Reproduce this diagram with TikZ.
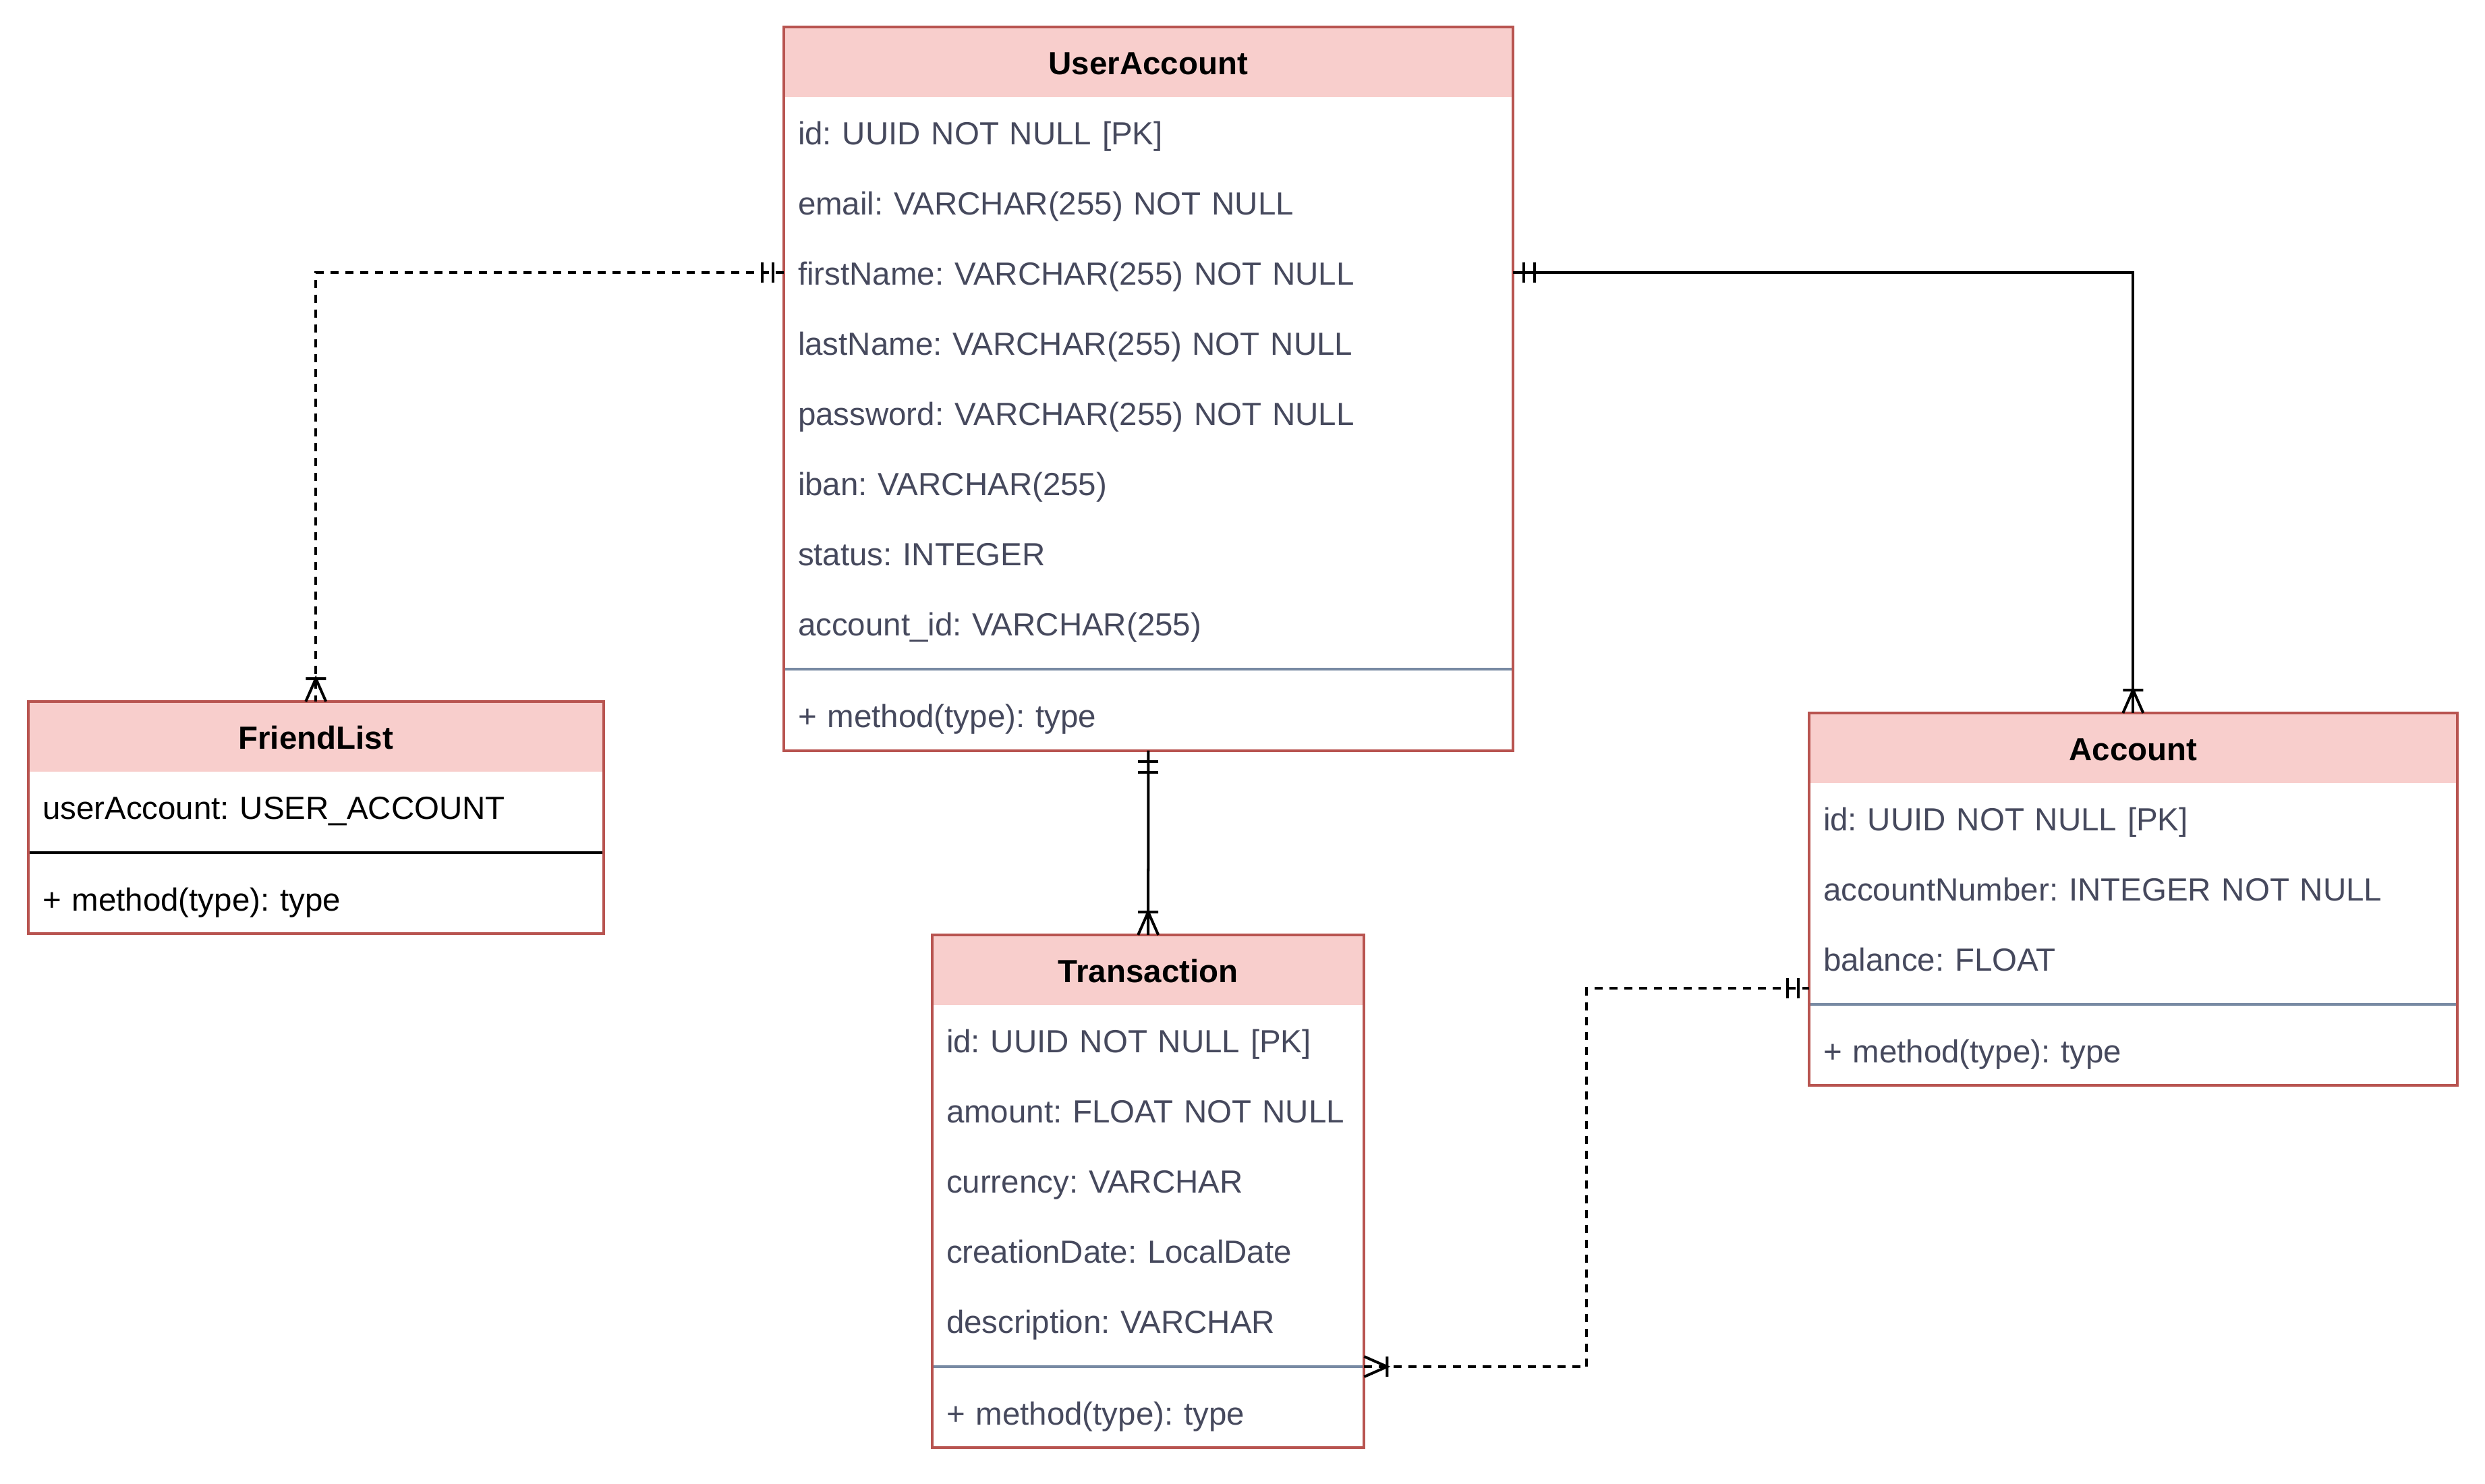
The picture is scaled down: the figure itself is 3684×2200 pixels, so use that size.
\documentclass[tikz,border=0pt]{standalone}
\usepackage{fontspec}
\setmainfont{Liberation Sans}
\usetikzlibrary{calc}

\definecolor{hdfill}{HTML}{F8CECC}
\definecolor{frameline}{HTML}{B85450}
\definecolor{rowtext}{HTML}{46495D}
\definecolor{sepcol}{HTML}{788AA3}

\newcommand\rowfont{\fontsize{13.5pt}{16pt}\selectfont\frenchspacing}
\newcommand\hdfont{\fontsize{13.5pt}{16pt}\selectfont\bfseries}

\begin{document}
\begin{tikzpicture}[x=0.01cm, y=-0.01cm,
  base/.style={rectangle, inner sep=0pt, outer sep=0pt},
  head/.style={base, fill=hdfill, minimum height=1.04cm, font=\hdfont,
    text height=1.12em, text depth=0.065em, anchor=north west},
  row/.style={base, minimum height=1.04cm, inner xsep=0.21cm, align=left,
    text height=1.12em, text depth=0.065em, font=\rowfont, text=rowtext, anchor=west},
  sepbox/.style={base, minimum height=0.32cm, anchor=north west},
  frame/.style={base, draw=frameline, line width=0.04cm, anchor=north west},
  sepline/.style={draw=sepcol, line width=0.04cm},
  conn/.style={draw=black, line width=0.04cm},
  dashconn/.style={conn, dash pattern=on 0.12cm off 0.1cm},
  marker/.style={draw=black, solid, line width=0.04cm},
  pics/mandone/.style={code={\draw[marker] (16,-15)--(16,15) (32,-15)--(32,15);}},
  pics/onemany/.style={code={\draw[marker] (34,-15)--(34,15) (0,-15)--(34,0)--(0,15);}}
]
\useasboundingbox (0,0) rectangle (3684,2200);

% ---------- UserAccount ----------
\node[head, minimum width=10.8cm] (ua-head) at (1162,40) {UserAccount};
\foreach \t [count=\i] in {
  {id: UUID NOT NULL [PK]},
  {email: VARCHAR(255) NOT NULL},
  {firstName: VARCHAR(255) NOT NULL},
  {lastName: VARCHAR(255) NOT NULL},
  {password: VARCHAR(255) NOT NULL},
  {iban: VARCHAR(255)},
  {status: INTEGER},
  {account\_id: VARCHAR(255)}}
  \node[row, text width=10.38cm] (ua-r\i) at (1162,{92+104*\i}) {\mbox{\t}};
\node[sepbox, minimum width=10.8cm] (ua-sep) at (1162,976) {};
\draw[sepline] (ua-sep.west) -- (ua-sep.east);
\node[row, text width=10.38cm] (ua-m) at (1162,1060) {+ method(type): type};
\node[frame, minimum width=10.8cm, minimum height=10.72cm] (ua) at (1162,40) {};

% ---------- FriendList ----------
\node[head, minimum width=8.52cm] (fl-head) at (42,1040) {FriendList};
\node[row, text width=8.1cm, text=black] (fl-r1) at (42,1196) {userAccount: USER\_ACCOUNT};
\node[sepbox, minimum width=8.52cm] (fl-sep) at (42,1248) {};
\draw[conn] (fl-sep.west) -- (fl-sep.east);
\node[row, text width=8.1cm, text=black] (fl-m) at (42,1332) {+ method(type): type};
\node[frame, minimum width=8.52cm, minimum height=3.44cm] (fl) at (42,1040) {};

% ---------- Transaction ----------
\node[head, minimum width=6.4cm] (tr-head) at (1382,1386) {Transaction};
\foreach \t [count=\i] in {
  {id: UUID NOT NULL [PK]},
  {amount: FLOAT NOT NULL},
  {currency: VARCHAR},
  {creationDate: LocalDate},
  {description: VARCHAR}}
  \node[row, text width=5.98cm] (tr-r\i) at (1382,{1438+104*\i}) {\mbox{\t}};
\node[sepbox, minimum width=6.4cm] (tr-sep) at (1382,2010) {};
\draw[sepline] (tr-sep.west) -- (tr-sep.east);
\node[row, text width=5.98cm] (tr-m) at (1382,2094) {+ method(type): type};
\node[frame, minimum width=6.4cm, minimum height=7.6cm] (tr) at (1382,1386) {};

% ---------- Account ----------
\node[head, minimum width=9.6cm] (ac-head) at (2682,1057) {Account};
\foreach \t [count=\i] in {
  {id: UUID NOT NULL [PK]},
  {accountNumber: INTEGER NOT NULL},
  {balance: FLOAT}}
  \node[row, text width=9.18cm] (ac-r\i) at (2682,{1109+104*\i}) {\mbox{\t}};
\node[sepbox, minimum width=9.6cm] (ac-sep) at (2682,1473) {};
\draw[sepline] (ac-sep.west) -- (ac-sep.east);
\node[row, text width=9.18cm] (ac-m) at (2682,1557) {+ method(type): type};
\node[frame, minimum width=9.6cm, minimum height=5.52cm] (ac) at (2682,1057) {};

% ---------- relationships ----------
% UserAccount -- FriendList
\draw[dashconn] (ua-r3.west) -| (fl-head.north);
\pic[rotate=180] at (ua-r3.west) {mandone};
\pic[rotate=90] at (fl-head.north) {onemany};

% UserAccount -- Account
\draw[conn] (ua-r3.east) -| (ac-head.north);
\pic at (ua-r3.east) {mandone};
\pic[rotate=90] at (ac-head.north) {onemany};

% UserAccount -- Transaction
\draw[conn] (ua.south) -- (tr-head.north);
\pic[rotate=-90] at (ua.south) {mandone};
\pic[rotate=90] at (tr-head.north) {onemany};

% Account -- Transaction
\coordinate (ac-in) at ([yshift=0.08cm]ac-r3.south west);
\draw[dashconn] (tr-sep.east) -- ++(330,0) |- (ac-in);
\pic[rotate=180] at (ac-in) {mandone};
\pic at (tr-sep.east) {onemany};
\end{tikzpicture}
\end{document}
